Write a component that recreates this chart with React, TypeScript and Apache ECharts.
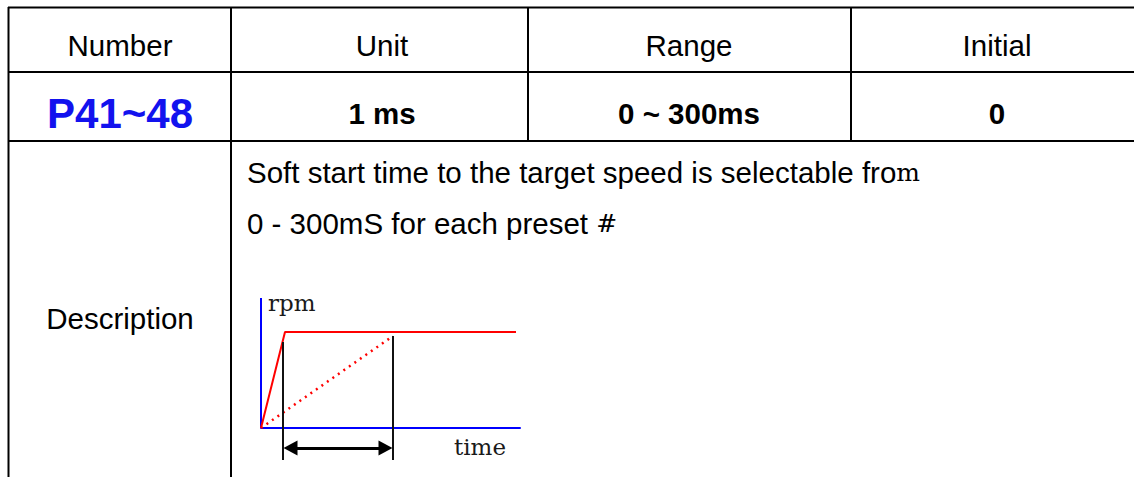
import React, { useEffect, useRef } from "react";
import * as echarts from "echarts";

// Table content
const headers = ["Number", "Unit", "Range", "Initial"];
const values = ["P41~48", "1 ms", "0 ~ 300ms", "0"];
const descLabel = "Description";
const descLine1 = "Soft start time to the target speed is selectable fro";
const descLine1Tail = "m";
const descLine2 = "0 - 300mS for each preset ";
const descLine2Tail = "#";

// Diagram data (time, rpm)
const rampTime = [0, 24, 255];
const rampRpm = [0, 96, 96];
const linearTime = [0, 132];
const linearRpm = [0, 92];
const markerTime = [22, 132];
const markerTop = [86, 92];
const markerBottom = -32;
const arrowLevel = -20;
const rpmAxisTop = 130;
const timeAxisMax = 259;
const yLabel = "rpm";
const xLabel = "time";

const SANS = "'Liberation Sans', Arial, sans-serif";
const SERIF = "'DejaVu Serif', serif";
const FS = 29.5;

export default function App() {
  const ref = useRef<HTMLDivElement>(null);

  useEffect(() => {
    if (!ref.current) return;
    const chart = echarts.init(ref.current, undefined, { renderer: "svg" });

    const colCenters = [120, 382, 689, 997];
    const rowCenters = [45, 113];
    const arrowHead = 15;

    const lineEl = (x1: number, y1: number, x2: number, y2: number) => ({
      type: "line",
      shape: { x1, y1, x2, y2 },
      style: { stroke: "#000", lineWidth: 2 },
      silent: true,
    });

    const graphic: any[] = [
      lineEl(8, 7.5, 1134, 7.5),
      lineEl(8, 72, 1134, 72),
      lineEl(8, 141, 1134, 141),
      lineEl(8.5, 7, 8.5, 477),
      lineEl(231, 7, 231, 477),
      lineEl(528, 7, 528, 141),
      lineEl(851, 7, 851, 141),
    ];

    headers.forEach((h, i) => {
      graphic.push({
        type: "text",
        x: colCenters[i],
        y: rowCenters[0],
        style: {
          text: h,
          font: `${FS}px ${SANS}`,
          fill: "#000",
          align: "center",
          verticalAlign: "middle",
        },
      });
    });
    values.forEach((v, i) => {
      graphic.push({
        type: "text",
        x: colCenters[i],
        y: rowCenters[1],
        style: {
          text: v,
          font: i === 0 ? `bold 42px ${SANS}` : `bold ${FS}px ${SANS}`,
          fill: i === 0 ? "#1212ee" : "#000",
          align: "center",
          verticalAlign: "middle",
        },
      });
    });
    graphic.push({
      type: "text",
      x: 120,
      y: 318,
      style: {
        text: descLabel,
        font: `${FS}px ${SANS}`,
        fill: "#000",
        align: "center",
        verticalAlign: "middle",
      },
    });
    graphic.push({
      type: "text",
      x: 247,
      y: 172,
      style: {
        text: `{a|${descLine1}}{b|${descLine1Tail}}`,
        verticalAlign: "middle",
        rich: {
          a: { fontFamily: SANS, fontSize: FS, color: "#000" },
          b: { fontFamily: SERIF, fontSize: 25, color: "#000" },
        },
      },
    });
    graphic.push({
      type: "text",
      x: 247,
      y: 223,
      style: {
        text: `{a|${descLine2}}{b|${descLine2Tail}}`,
        verticalAlign: "middle",
        rich: {
          a: { fontFamily: SANS, fontSize: FS, color: "#000" },
          b: { fontFamily: SERIF, fontSize: 25, color: "#000" },
        },
      },
    });
    graphic.push({
      type: "text",
      x: 268,
      y: 303,
      style: {
        text: yLabel,
        font: `23px ${SERIF}`,
        fill: "#1a1a1a",
        verticalAlign: "middle",
      },
    });
    graphic.push({
      type: "text",
      x: 454,
      y: 447,
      style: {
        text: xLabel,
        font: `23px ${SERIF}`,
        fill: "#1a1a1a",
        verticalAlign: "middle",
      },
    });

    const blackLine = { color: "#111", width: 2 };

    chart.setOption({
      animation: false,
      grid: { left: 261, top: 298, width: 259, height: 164 },
      xAxis: {
        type: "value",
        min: 0,
        max: timeAxisMax,
        axisLine: { show: true, onZero: true, lineStyle: { color: "#0000ff", width: 2 } },
        axisTick: { show: false },
        axisLabel: { show: false },
        splitLine: { show: false },
      },
      yAxis: {
        type: "value",
        min: markerBottom - 2,
        max: rpmAxisTop,
        axisLine: { show: false },
        axisTick: { show: false },
        axisLabel: { show: false },
        splitLine: { show: false },
      },
      graphic,
      series: [
        {
          type: "line",
          name: "rpm axis",
          data: [
            [0, 0],
            [0, rpmAxisTop],
          ],
          symbol: "none",
          lineStyle: { color: "#0000ff", width: 2 },
          silent: true,
        },
        {
          type: "line",
          name: "soft start",
          data: rampTime.map((t, i) => [t, rampRpm[i]]),
          symbol: "none",
          lineStyle: { color: "#ff0000", width: 2 },
          silent: true,
        },
        {
          type: "line",
          name: "linear",
          data: linearTime.map((t, i) => [t, linearRpm[i]]),
          symbol: "none",
          lineStyle: { color: "#ff0000", width: 2.5, type: [2, 4.7] },
          silent: true,
        },
        ...markerTime.map((t, i) => ({
          type: "line",
          name: "marker" + i,
          data: [
            [t, markerTop[i]],
            [t, markerBottom],
          ],
          symbol: "none",
          lineStyle: blackLine,
          silent: true,
          markLine:
            i === 0
              ? {
                  silent: true,
                  symbol: ["triangle", "triangle"],
                  symbolSize: [arrowHead, 14],
                  label: { show: false },
                  lineStyle: { color: "#000", width: 3, type: "solid" },
                  data: [
                    [
                      { coord: [markerTime[0] + arrowHead / 2, arrowLevel] },
                      { coord: [markerTime[1] - arrowHead / 2, arrowLevel] },
                    ],
                  ],
                }
              : undefined,
        })),
      ],
    });

    return () => chart.dispose();
  }, []);

  return (
    <div
      ref={ref}
      style={{ position: "absolute", left: 0, top: 0, width: 1134, height: 477, background: "#fff" }}
    />
  );
}
